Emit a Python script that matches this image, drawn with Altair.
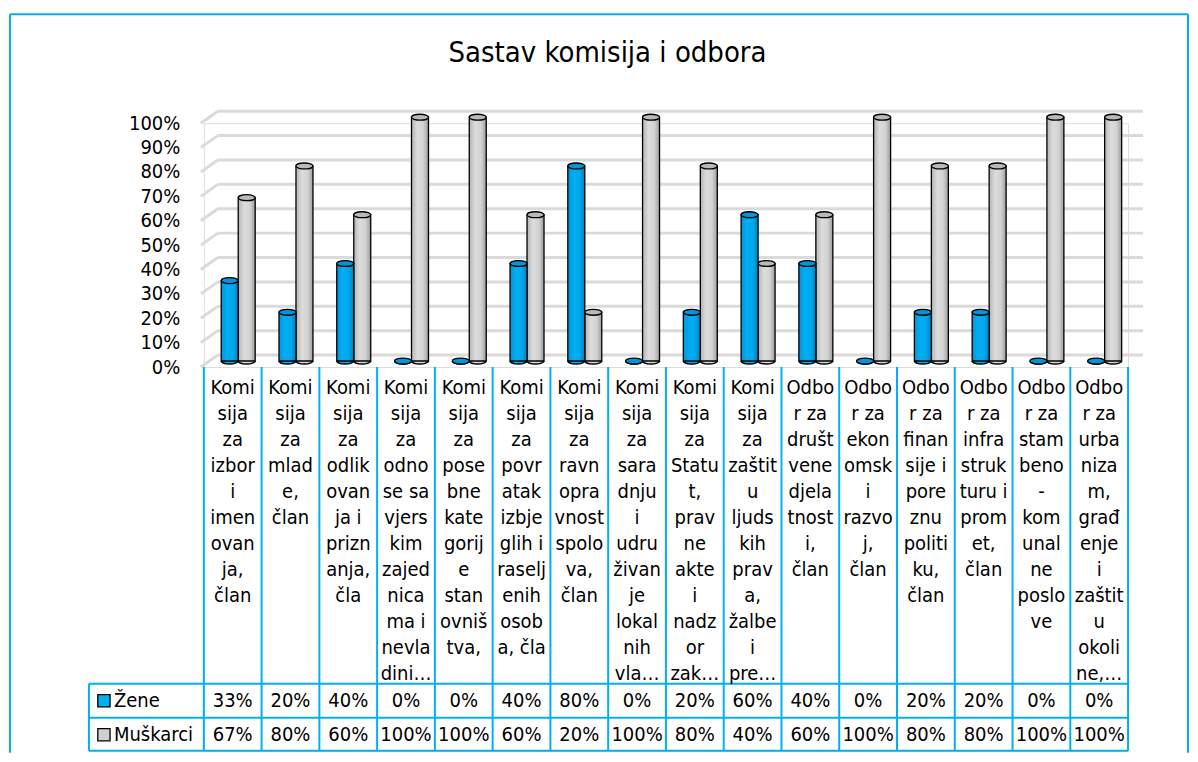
import altair as alt
import pandas as pd

# ---------------- data ----------------
categories = [
    "Komisija za izbor i imenovanja, član",
    "Komisija za mlade, član",
    "Komisija za odlikovanja i priznanja, čla",
    "Komisija za odnose sa vjerskim zajednicama i nevladini…",
    "Komisija za posebne kategorije stanovništva,",
    "Komisija za povratak izbjeglih i raseljenih osoba, čla",
    "Komisija za ravnopravnost spolova, član",
    "Komisija za saradnju i udruživanje lokalnih vla…",
    "Komisija za Statut, pravne akte i nadzor zak…",
    "Komisija za zaštitu ljudskih prava, žalbe i pre…",
    "Odbor za društvene djelatnosti, član",
    "Odbor za ekonomski razvoj, član",
    "Odbor za finansije i poreznu politiku, član",
    "Odbor za infrastrukturu i promet, član",
    "Odbor za stambeno-komunalne poslove",
    "Odbor za urbanizam, građenje i zaštitu okoline,…",
]
label_lines = [
    ["Komi", "sija", "za", "izbor", "i", "imen", "ovan", "ja,", "član"],
    ["Komi", "sija", "za", "mlad", "e,", "član"],
    ["Komi", "sija", "za", "odlik", "ovan", "ja i", "prizn", "anja,", "čla"],
    ["Komi", "sija", "za", "odno", "se sa", "vjers", "kim", "zajed", "nica", "ma i", "nevla", "dini…"],
    ["Komi", "sija", "za", "pose", "bne", "kate", "gorij", "e", "stan", "ovniš", "tva,"],
    ["Komi", "sija", "za", "povr", "atak", "izbje", "glih i", "raselj", "enih", "osob", "a, čla"],
    ["Komi", "sija", "za", "ravn", "opra", "vnost", "spolo", "va,", "član"],
    ["Komi", "sija", "za", "sara", "dnju", "i", "udru", "živan", "je", "lokal", "nih", "vla…"],
    ["Komi", "sija", "za", "Statu", "t,", "prav", "ne", "akte", "i", "nadz", "or", "zak…"],
    ["Komi", "sija", "za", "zaštit", "u", "ljuds", "kih", "prav", "a,", "žalbe", "i", "pre…"],
    ["Odbo", "r za", "društ", "vene", "djela", "tnost", "i,", "član"],
    ["Odbo", "r za", "ekon", "omsk", "i", "razvo", "j,", "član"],
    ["Odbo", "r za", "finan", "sije i", "pore", "znu", "politi", "ku,", "član"],
    ["Odbo", "r za", "infra", "struk", "turu i", "prom", "et,", "član"],
    ["Odbo", "r za", "stam", "beno", "-", "kom", "unal", "ne", "poslo", "ve"],
    ["Odbo", "r za", "urba", "niza", "m,", "građ", "enje", "i", "zaštit", "u", "okoli", "ne,…"],
]
zene = [33, 20, 40, 0, 0, 40, 80, 0, 20, 60, 40, 0, 20, 20, 0, 0]
muskarci = [67, 80, 60, 100, 100, 60, 20, 100, 80, 40, 60, 100, 80, 80, 100, 100]
series_names = ["Žene", "Muškarci"]
y_ticks = list(range(0, 101, 10))
title_text = "Sastav komisija i odbora"

# ---------------- style ----------------
FONT = "DejaVu Sans Condensed"
FS = 20
W, H = 925, 244          # plot area of the column chart
TH = 384                 # height of the data table
LINE = "#00B0F0"
GRID = "#DADADA"
ELLIPSE = "M-1,0A1,0.35,0,1,1,1,0A1,0.35,0,1,1,-1,0Z"
HALF_ELLIPSE = "M-1,0A1,0.35,0,0,0,1,0"
BAR_W = 17
BLUE_DX, GRAY_DX, DY = -3, 14, -6

grad_blue = alt.LinearGradient(
    gradient="linear", x1=0, x2=1, y1=0, y2=0,
    stops=[alt.GradientStop(color="#0094D8", offset=0),
           alt.GradientStop(color="#00AEF2", offset=0.35),
           alt.GradientStop(color="#00A8EE", offset=0.7),
           alt.GradientStop(color="#0080BE", offset=1)])
grad_gray = alt.LinearGradient(
    gradient="linear", x1=0, x2=1, y1=0, y2=0,
    stops=[alt.GradientStop(color="#B4B4B4", offset=0),
           alt.GradientStop(color="#DCDCDC", offset=0.35),
           alt.GradientStop(color="#D2D2D2", offset=0.7),
           alt.GradientStop(color="#9C9C9C", offset=1)])

df = pd.DataFrame({"cat": categories, "zene": zene, "musk": muskarci})
df["lines"] = label_lines
df["zene_txt"] = [f"{v}%" for v in zene]
df["musk_txt"] = [f"{v}%" for v in muskarci]
grid_df = pd.DataFrame({"v": y_ticks})
one = pd.DataFrame({"k": [0]})

xscale = alt.Scale(domain=categories, paddingInner=0, paddingOuter=0)
yscale = alt.Scale(domain=[0, 100], nice=False)
YAXIS = alt.Axis(values=y_ticks, labelExpr="datum.value + '%'",
                 labelFont=FONT, labelFontSize=20, labelColor="black",
                 labelPadding=24, ticks=False, domain=False, grid=False,
                 title=None)
X = alt.X("cat:N", scale=xscale, axis=None)

# ---------------- column chart ----------------
frame = [
    alt.Chart(one).mark_rule(color=LINE, strokeWidth=2).encode(
        x=alt.value(-194), x2=alt.value(985), y=alt.value(-109)),
    alt.Chart(one).mark_rule(color=LINE, strokeWidth=2).encode(
        x=alt.value(-194), y=alt.value(-109), y2=alt.value(H + TH + 2)),
    alt.Chart(one).mark_rule(color=LINE, strokeWidth=2).encode(
        x=alt.value(985), y=alt.value(-109), y2=alt.value(H + TH + 2)),
]
title = alt.Chart(one).mark_text(
    text=title_text, font=FONT, fontSize=29, align="center", baseline="middle",
    color="black").encode(x=alt.value(404), y=alt.value(-70))

grid_slant = alt.Chart(grid_df).mark_rule(
    color=GRID, strokeWidth=3, y2Offset=-12).encode(
    x=alt.value(-3), x2=alt.value(14),
    y=alt.Y("v:Q", scale=yscale, axis=YAXIS),
    y2=alt.Y2("v"))
grid_h = alt.Chart(grid_df).mark_rule(
    color=GRID, strokeWidth=3, yOffset=-12).encode(
    x=alt.value(14), x2=alt.value(940),
    y=alt.Y("v:Q", scale=yscale, axis=YAXIS))


def cylinder(field, grad, top_fill, dx):
    bottom = alt.Chart(df).mark_point(
        shape=HALF_ELLIPSE, size=BAR_W * BAR_W, filled=True, fill=grad,
        stroke="black", strokeWidth=1.3, opacity=1, xOffset=dx, yOffset=DY).encode(
        x=X, y=alt.datum(0, scale=yscale, axis=YAXIS))
    body = alt.Chart(df).mark_bar(
        width=BAR_W, xOffset=dx, yOffset=DY, y2Offset=DY, color=grad,
        stroke="black", strokeWidth=1.3).encode(
        x=X, y=alt.Y(f"{field}:Q", scale=yscale, axis=YAXIS))
    top = alt.Chart(df).mark_point(
        shape=ELLIPSE, size=BAR_W * BAR_W, filled=True, fill=top_fill,
        stroke="black", strokeWidth=1.3, opacity=1, xOffset=dx, yOffset=DY).encode(
        x=X, y=alt.Y(f"{field}:Q", scale=yscale, axis=YAXIS))
    return [bottom, body, top]


bars = cylinder("musk", grad_gray, "#B9B9B9", GRAY_DX) + \
    cylinder("zene", grad_blue, "#0096D8", BLUE_DX)

top_chart = alt.layer(grid_slant, grid_h, *frame, title, *bars).properties(
    width=W, height=H)

# ---------------- data table ----------------
vlines = alt.Chart(df).mark_rule(color=LINE, strokeWidth=2).encode(
    x=alt.X("cat:N", scale=xscale, axis=None, bandPosition=0),
    y=alt.value(0), y2=alt.value(TH))
rlayers = [vlines,
           alt.Chart(one).mark_rule(color=LINE, strokeWidth=2).encode(
               x=alt.value(W), y=alt.value(0), y2=alt.value(TH)),
           alt.Chart(one).mark_rule(color=LINE, strokeWidth=2).encode(
               x=alt.value(-115), y=alt.value(317), y2=alt.value(TH))]
for yy in (317, 351, TH):
    rlayers.append(alt.Chart(one).mark_rule(color=LINE, strokeWidth=2).encode(
        x=alt.value(-115), x2=alt.value(W), y=alt.value(yy)))

labels = alt.Chart(df).mark_text(
    font=FONT, fontSize=FS, align="center", baseline="top", lineHeight=26,
    color="black").encode(x=X, y=alt.value(11), text="lines")
vals_z = alt.Chart(df).mark_text(
    font=FONT, fontSize=FS, align="center", baseline="middle", color="black").encode(
    x=X, y=alt.value(334), text="zene_txt")
vals_m = alt.Chart(df).mark_text(
    font=FONT, fontSize=FS, align="center", baseline="middle", color="black").encode(
    x=X, y=alt.value(368), text="musk_txt")

legend_layers = []
for name, fill, yy in ((series_names[0], "#00B0F0", 334), (series_names[1], "#D0D0D0", 368)):
    legend_layers.append(alt.Chart(one).mark_point(
        shape="square", size=150, filled=True, fill=fill, stroke="black",
        strokeWidth=1.3, opacity=1).encode(x=alt.value(-100), y=alt.value(yy)))
    legend_layers.append(alt.Chart(one).mark_text(
        text=name, font=FONT, fontSize=FS, align="left", baseline="middle",
        color="black").encode(x=alt.value(-90), y=alt.value(yy)))

table = alt.layer(*rlayers, labels, vals_z, vals_m, *legend_layers).properties(
    width=W, height=TH)

chart = alt.vconcat(
    top_chart, table, spacing=0, bounds="flush",
    padding={"left": 0, "top": 4, "right": 0, "bottom": 0},
).configure_view(strokeWidth=0).configure(background="white")

chart.save("out.html", embed_options={"renderer": "svg", "actions": False})
